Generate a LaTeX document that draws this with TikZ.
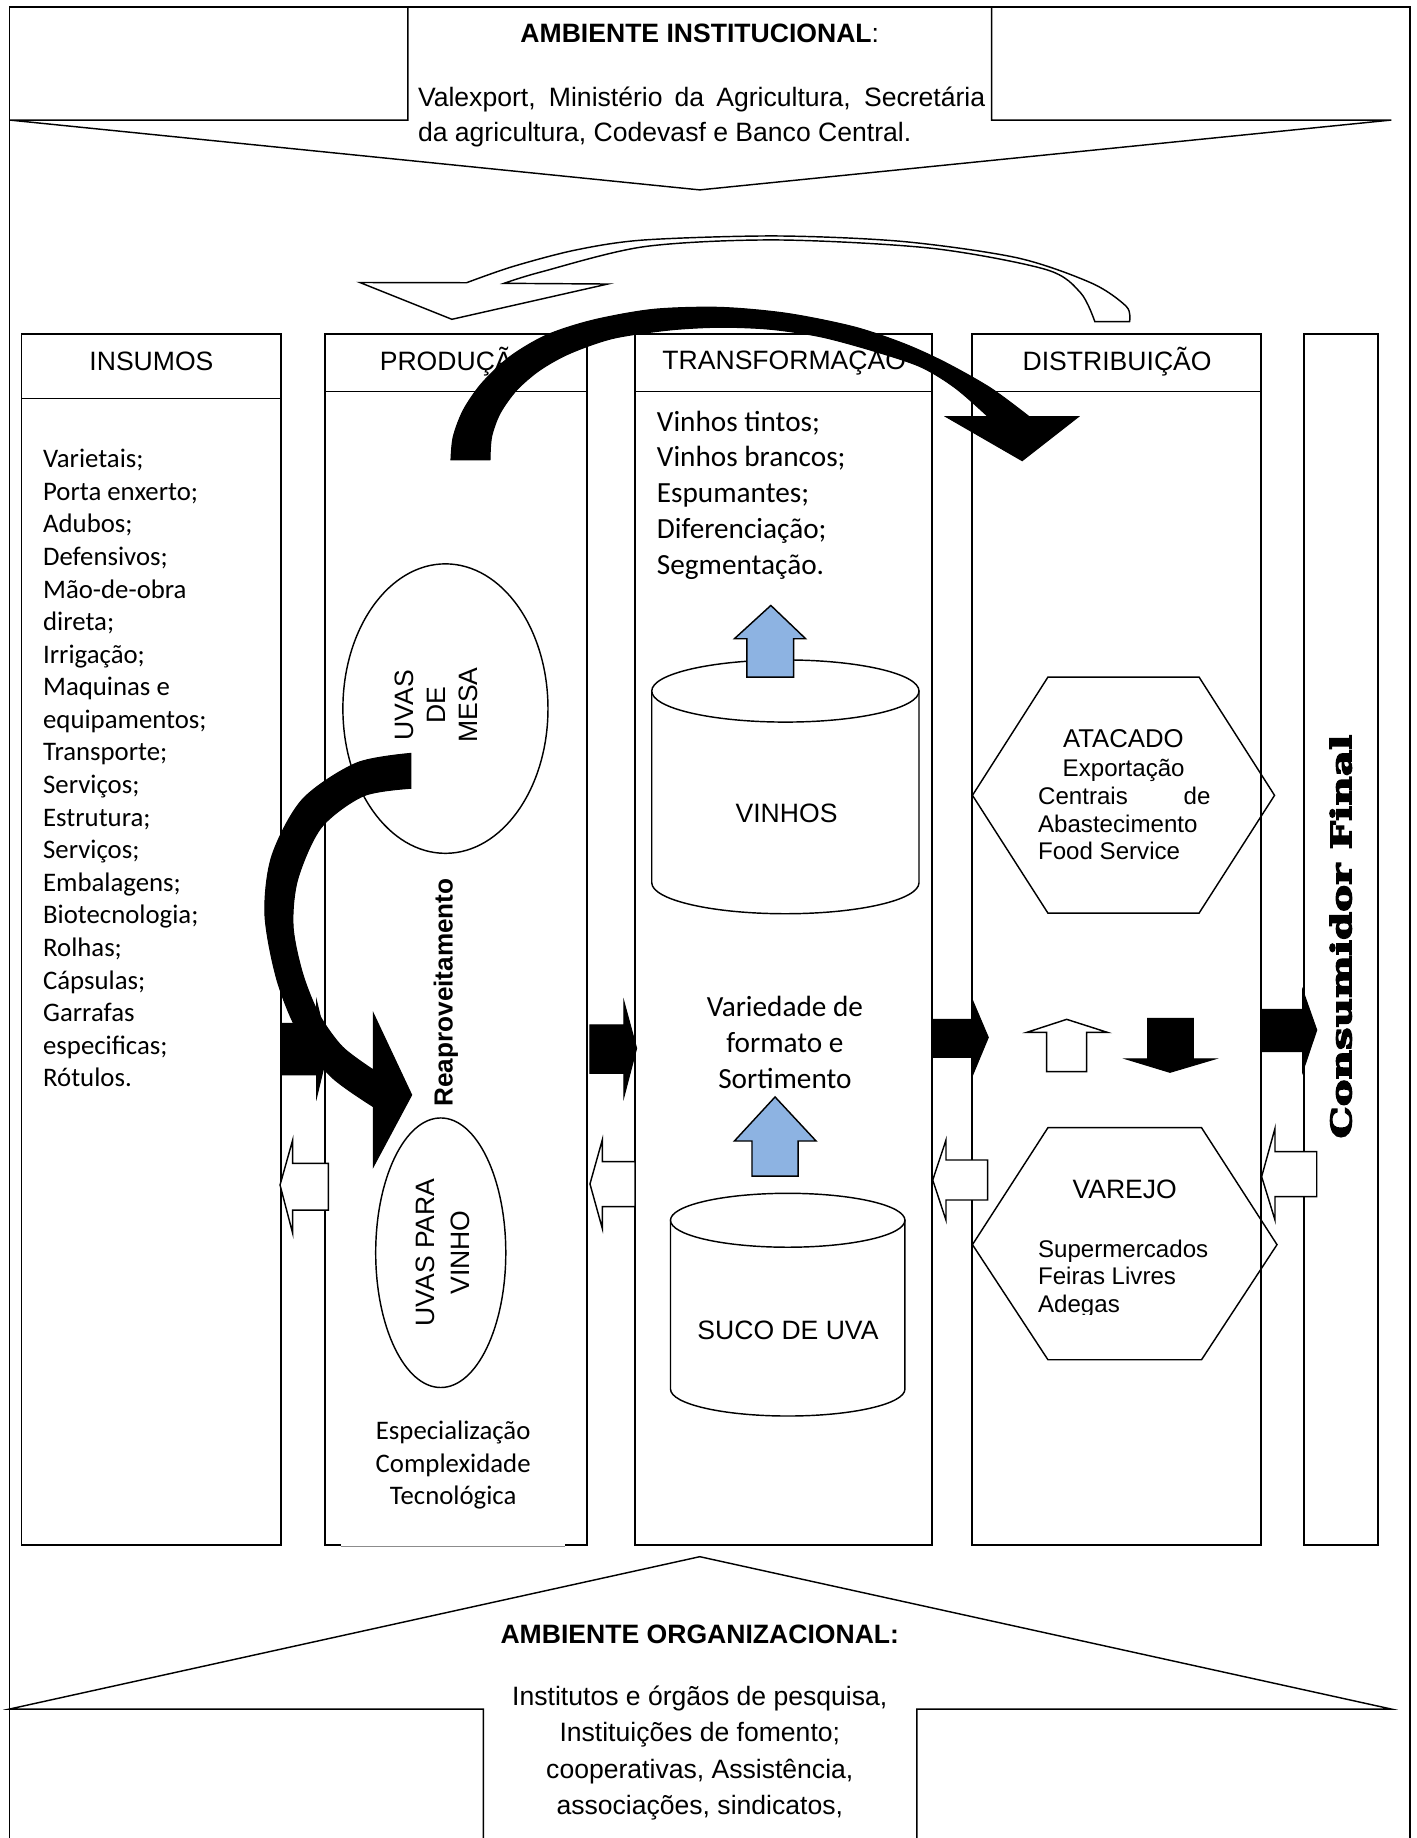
\documentclass[tikz,border=0pt]{standalone}
\usepackage{fontspec}
\setmainfont{Liberation Sans}
\newfontfamily\calibri{Carlito}
\newfontfamily\slabfont{DejaVu Serif}
\usetikzlibrary{shapes.geometric}
\definecolor{arrowblue}{RGB}{141,179,226}
\newcommand{\heavy}[1]{\special{pdf:literal direct 2 Tr 0.55 w}#1\special{pdf:literal direct 0 Tr}}

\begin{document}
\begin{tikzpicture}[x=0.02cm,y=-0.02cm,line width=0.7pt]
        %
        % `column' is used for the five boxes of the chain.
        % `blk' and `hollow' are the block arrows between them.
        \tikzstyle{column} = [draw,fill=white,line width=0.9pt]
        \tikzstyle{txt} = [inner sep=0pt,font=\fontsize{12.9}{15}\selectfont]
        \tikzstyle{subtxt} = [inner sep=0pt,font=\fontsize{11.7}{13.6}\selectfont]
        \tikzstyle{cal} = [inner sep=0pt,font=\calibri\fontsize{13}{15.8}\selectfont]
        \tikzstyle{calbig} = [inner sep=0pt,font=\calibri\fontsize{14.2}{17.4}\selectfont]
        \tikzstyle{blk} = [fill=black,draw=black,line width=0.5pt]
        \tikzstyle{hollow} = [fill=white,draw=black,line width=0.7pt]
        \tikzstyle{bluearrow} = [fill=arrowblue,draw=black,line width=0.7pt]
        \useasboundingbox (0,0) rectangle (1208,1568);
        %
        % Frame
        \draw (8,1568) -- (8,6) -- (1203,6) -- (1203,1568);
        %
        % Institutional environment (top)
        \draw (348,6) -- (348,102.4) -- (8,102.4) -- (597,162) -- (1187,102.4) -- (846,102.4) -- (846,6);
        \node[txt,anchor=base] (inst) at (597,36) {\textbf{AMBIENTE INSTITUCIONAL}:};
        \node[txt,anchor=base west] (inst1) at (356,91) {\makebox[275.4pt][s]{Valexport, Ministério da Agricultura, Secretária}};
        \node[txt,anchor=base west] (inst2) at (356,121) {da agricultura, Codevasf e Banco Central.};
        %
        % Organizational environment (bottom)
        \draw (412.3,1568) -- (412.3,1458) -- (8,1458) -- (597,1328) -- (1187,1458) -- (782.2,1458) -- (782.2,1568);
        \node[txt,anchor=base] (org) at (597,1402) {\textbf{AMBIENTE ORGANIZACIONAL:}};
        \foreach \lbl [count=\i from 0] in {{Institutos e órgãos de pesquisa,},{Instituições de fomento;},{cooperativas, Assistência,},{associações, sindicatos,}}
            \node[txt,anchor=base] (org\i) at (597,{1455+31*\i}) {\lbl};
        %
        % Column 1
        \draw[column] (18.3,285) rectangle (240,1318);
        \draw[column] (18.3,285) rectangle (240,340);
        \node[txt,anchor=base] (hins) at (129.2,316.3) {INSUMOS};
        \foreach \lbl [count=\i from 0] in {{Varietais;},{Porta enxerto;},{Adubos;},{Defensivos;},{Mão-de-obra},{direta;},{Irrigação;},{Maquinas e},{equipamentos;},{Transporte;},{Serviços;},{Estrutura;},{Serviços;},{Embalagens;},{Biotecnologia;},{Rolhas;},{Cápsulas;},{Garrafas},{especificas;},{Rótulos.}}
            \node[cal,anchor=base west] (ins\i) at (36.2,{399+27.8*\i}) {\lbl};
        %
        % Column 2
        \draw[column] (277.3,285) rectangle (500.8,1318);
        \draw[column] (277.3,285) rectangle (500.8,334);
        \node[txt,anchor=base] (hprod) at (389.5,316) {PRODUÇÃO};
        \node[draw,ellipse,minimum width=3.5cm,minimum height=4.94cm,inner sep=0pt] (mesa) at (380,604.5) {};
        \node[txt,rotate=90,align=center,font=\fontsize{12.9}{15.7}\selectfont] (mesatxt) at (372.3,601.5) {UVAS\\DE\\MESA};
        \node[draw,ellipse,minimum width=2.22cm,minimum height=4.6cm,inner sep=0pt] (vinho) at (376,1068.7) {};
        \node[txt,rotate=90,align=center,font=\fontsize{12.9}{17}\selectfont] (vinhotxt) at (378.2,1068.5) {UVAS PARA\\VINHO};
        \node[txt,rotate=90,font=\bfseries\fontsize{12.7}{15}\selectfont] (reap) at (380.3,846.7) {Reaproveitamento};
        \fill[white] (290.6,1313) rectangle (481.8,1322);
        \draw[line width=0.4pt,black!45] (290.6,1319.5) -- (481.8,1319.5);
        \foreach \lbl [count=\i from 0] in {Especialização,Complexidade,Tecnológica}
            \node[cal,anchor=base] (esp\i) at (386.6,{1227.8+28*\i}) {\lbl};
        %
        % Column 3
        \draw[column] (542,285) rectangle (795,1318);
        \draw[column] (542,285) rectangle (795,334);
        \node[txt,anchor=base] (htra) at (669,315.5) {TRANSFORMAÇÃO};
        \foreach \lbl [count=\i from 0] in {{Vinhos tintos;},{Vinhos brancos;},{Espumantes;},{Diferenciação;},{Segmentação.}}
            \node[calbig,anchor=base west] (tra\i) at (559.8,{367.7+30.5*\i}) {\lbl};
        \filldraw[fill=white] (556,589.5) -- (556,753) arc[start angle=180,end angle=0,x radius=114,y radius=26.5] -- (784,589.5) -- cycle;
        \filldraw[fill=white] (670,589.5) ellipse [x radius=114,y radius=26.5];
        \node[txt,anchor=base] (vinhos) at (671,701.5) {VINHOS};
        \filldraw[fill=white] (572,1041) -- (572,1185) arc[start angle=180,end angle=0,x radius=100,y radius=23] -- (772,1041) -- cycle;
        \filldraw[fill=white] (672,1041) ellipse [x radius=100,y radius=23];
        \node[txt,anchor=base] (suco) at (672.2,1142.5) {SUCO DE UVA};
        \foreach \lbl [count=\i from 0] in {{Variedade de},{formato e},{Sortimento}}
            \node[calbig,anchor=base] (var\i) at (669.6,{866.8+30.7*\i}) {\lbl};
        \filldraw[bluearrow] (637.2,577.6) -- (637.2,544.9) -- (626.5,544.9) -- (657.6,516.5) -- (687.3,544.9) -- (677.1,544.9) -- (677.1,577.6) -- cycle;
        \filldraw[bluearrow] (641.5,1003.3) -- (641.5,973.4) -- (626.5,973.4) -- (661.2,935.8) -- (696.2,973.4) -- (680.8,973.4) -- (680.8,1003.3) -- cycle;
        %
        % Column 4
        \draw[column] (829,285) rectangle (1076,1318);
        \draw[column] (829,285) rectangle (1076,334);
        \node[txt,anchor=base] (hdis) at (953,316) {DISTRIBUIÇÃO};
        \draw (829.6,678.5) -- (894,577.6) -- (1022.9,577.6) -- (1087.3,678.5) -- (1022.9,779) -- (894,779) -- cycle;
        \node[txt,anchor=base,font=\fontsize{12.5}{15}\selectfont] (atac) at (958.4,637.5) {ATACADO};
        \node[subtxt,anchor=base] (atac1) at (958.6,662.3) {Exportação};
        \node[subtxt,anchor=base west] (atac2) at (885,686.3) {\makebox[83.7pt][s]{Centrais de}};
        \node[subtxt,anchor=base west] (atac3) at (885,710.3) {Abastecimento};
        \node[subtxt,anchor=base west] (atac4) at (885,733.3) {Food Service};
        \draw (829.6,1061.8) -- (894,962) -- (1025,962) -- (1089.4,1061.8) -- (1025,1160) -- (894,1160) -- cycle;
        \node[txt,anchor=base] (var) at (959.5,1022.2) {VAREJO};
        \node[subtxt,anchor=base west] (var1) at (885,1072.4) {Supermercados};
        \node[subtxt,anchor=base west] (var2) at (885,1096.2) {Feiras Livres};
        \begin{scope}
            \clip (880,1100) rectangle (1070,1121.5);
            \node[subtxt,anchor=base west] (var3) at (885,1119.7) {Adegas};
        \end{scope}
        \filldraw[hollow] (892.9,914.2) -- (892.9,880.7) -- (875.9,880.7) -- (910,869.6) -- (944.7,880.7) -- (927,880.7) -- (927,914.2) -- cycle;
        \filldraw[blk] (979.1,868.7) -- (1018,868.7) -- (1018,903.4) -- (1036.5,903.4) -- (998.1,914.8) -- (960.6,903.4) -- (979.1,903.4) -- cycle;
        %
        % Column 5
        \draw[column] (1112.5,285) rectangle (1175.5,1318);
        %
        % Arrows between the columns
        \filldraw[blk] (240.3,873) -- (270.2,873) -- (270.2,854.5) -- (280,895) -- (270.2,935.6) -- (270.2,917) -- (240.3,917) -- cycle;
        \filldraw[blk] (503.3,874.4) -- (532.3,874.4) -- (532.3,854.5) -- (543.1,894.3) -- (532.3,935.6) -- (532.3,915.6) -- (503.3,915.6) -- cycle;
        \filldraw[blk] (795.7,869.6) -- (829.8,869.6) -- (829.8,853.7) -- (843.1,885) -- (829.8,917) -- (829.8,902) -- (795.7,902) -- cycle;
        \filldraw[blk] (1076.3,861) -- (1111.3,861) -- (1111.3,844.6) -- (1123.3,878.7) -- (1111.3,914.3) -- (1111.3,897.2) -- (1076.3,897.2) -- cycle;
        \filldraw[hollow] (280.1,992.4) -- (249.7,992.4) -- (249.7,972.5) -- (238.9,1010.9) -- (249.7,1052.2) -- (249.7,1032.3) -- (280.1,1032.3) -- cycle;
        \filldraw[hollow] (541.7,991) -- (513.8,991) -- (513.8,972.5) -- (503.3,1010) -- (513.8,1047.9) -- (513.8,1029.4) -- (541.7,1029.4) -- cycle;
        \filldraw[hollow] (842.6,989.6) -- (807,989.6) -- (807,972.6) -- (795.7,1006.7) -- (807,1040.8) -- (807,1023.7) -- (842.6,1023.7) -- cycle;
        \filldraw[hollow] (1123.3,982.5) -- (1087.7,982.5) -- (1087.7,962.6) -- (1076.3,1003.8) -- (1087.7,1040.8) -- (1087.7,1020.9) -- (1123.3,1020.9) -- cycle;
        %
        % Curved arrows
        \filldraw[hollow] (398,241.2) -- (307,241) -- (385.5,272.4) -- (518.5,242.3) -- (430,241.7)
            -- plot[smooth] coordinates {(430,241.7) (461.6,232) (549.8,210.4) (662.4,204.7) (794.6,211.8) (892.5,230) (922,250) (934,274.4)}
            -- (963.6,274.4)
            -- plot[smooth] coordinates {(963.6,274.4) (961,261.6) (931.6,241.7) (868,220) (770,206) (662.4,201.3) (549.8,204.7) (491,213.3) (437.1,227.5) (398,241.2)} -- cycle;
        \filldraw[blk] plot[smooth] coordinates {(384.7,392.4) (386.7,372.5) (395.3,349.8) (411,327) (435.1,304.2) (466.4,285.8) (506.2,273) (557.4,263.9) (614.3,262.2) (671.2,267.3) (728,278.7) (770.7,293) (806,309) (845,331) (878,355.5)}
            -- (920,355.5) -- (872,393) -- (807,355.5) -- (843,355.5)
            -- plot[smooth] coordinates {(843,355.5) (815,331) (785,312.8) (742.3,298.6) (699.6,287.2) (657,280.9) (614.3,279.2) (571.6,281.5) (523.3,288.6) (486.3,301.4) (460.7,315.6) (440.8,332.7) (426.6,352.6) (419.4,372.5) (418,392.4)} -- cycle;
        \filldraw[blk] plot[smooth] coordinates {(350.6,642.7) (304,651) (258,682) (232,730) (226,780) (236,835) (254,880) (282,918) (318.5,944.1)}
            -- (318.5,995.3) -- (351.2,934.1) -- (318.5,864.5) -- (318.5,912.8)
            -- plot[smooth] coordinates {(318.5,912.8) (292,893) (272,865) (258,830) (250,790) (254,750) (274,706) (310,679) (350.6,672.5)} -- cycle;
        %
        % Final consumer label
        \node[rotate=90,inner sep=0pt,font=\slabfont\bfseries\fontsize{13.8}{16}\selectfont] (cons) at (1143.8,799) {\scalebox{1.42}[1]{\heavy{Consumidor Final}}};
        %
\end{tikzpicture}
\end{document}
